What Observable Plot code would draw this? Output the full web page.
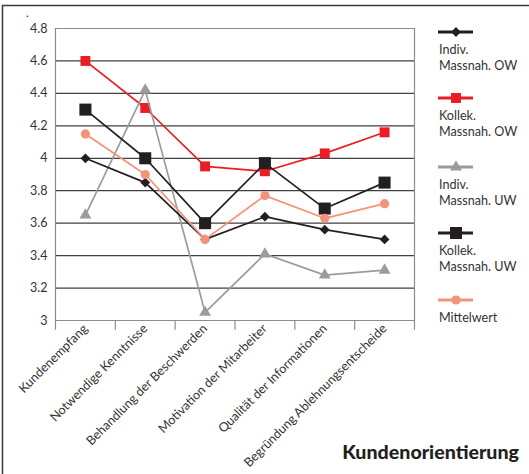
<!DOCTYPE html>
<html>
<head>
<meta charset="utf-8">
<script src="https://cdn.jsdelivr.net/npm/d3@7"></script>
<script src="https://cdn.jsdelivr.net/npm/@observablehq/plot@0.6"></script>
<style>
  html, body { margin: 0; padding: 0; background: #fff; }
  #chart svg { display: block; }
</style>
</head>
<body>
<div id="chart"></div>
<script>
// Survey items on the x axis
const categories = [
  "Kundenempfang",
  "Notwendige Kenntnisse",
  "Behandlung der Beschwerden",
  "Motivation der Mitarbeiter",
  "Qualität der Informationen",
  "Begründung Ablehnungsentscheide"
];

// Legend labels (two lines each, except the mean)
const seriesLabels = [
  ["Indiv.", "Massnah. OW"],
  ["Kollek.", "Massnah. OW"],
  ["Indiv.", "Massnah. UW"],
  ["Kollek.", "Massnah. UW"],
  ["Mittelwert"]
];

// Mean scores per item
const indivOW    = [4.00, 3.85, 3.50, 3.64, 3.56, 3.50];
const kollekOW   = [4.60, 4.31, 3.95, 3.92, 4.03, 4.16];
const indivUW    = [3.65, 4.42, 3.05, 3.41, 3.28, 3.31];
const kollekUW   = [4.30, 4.00, 3.60, 3.97, 3.69, 3.85];
const mittelwert = [4.15, 3.90, 3.50, 3.77, 3.63, 3.72];

// Y axis ticks and their printed labels
const yTicks      = [3, 3.2, 3.4, 3.6, 3.8, 4, 4.2, 4.4, 4.6, 4.8];
const yTickLabels = ["3", "3.2", "3.4", "3.6", "3.8", "4", "4.2", "4.4", "4.6", "4.8"];

const title = "Kundenorientierung";

// Series styling: colour, Plot symbol and symbol radius
const series = [
  {key: "indivOW",  label: seriesLabels[0], values: indivOW,    color: "#231f20", symbol: "diamond2", r: 4.4},
  {key: "kollekOW", label: seriesLabels[1], values: kollekOW,   color: "#ed1c24", symbol: "square",   r: 5.6},
  {key: "indivUW",  label: seriesLabels[2], values: indivUW,    color: "#9b9b9d", symbol: "triangle", r: 4.4},
  {key: "kollekUW", label: seriesLabels[3], values: kollekUW,   color: "#231f20", symbol: "square",   r: 6.8},
  {key: "mittel",   label: seriesLabels[4], values: mittelwert, color: "#f4937a", symbol: "circle",   r: 4.6}
];

const rowsOf = s => s.values.map((v, i) => ({i, value: v}));

// drawing order: red, grey, diamond, black squares, mean on top
const drawOrder = [series[1], series[2], series[0], series[3], series[4]];

const idx = d3.range(categories.length);
const innerBounds = idx.slice(0, -1).map(i => i + 0.5);

const frameGrey = "#8c8c8c";
const fontStack = "Lato, 'Open Sans', sans-serif";

const chart = Plot.plot({
  width: 529,
  height: 474,
  marginLeft: 55,
  marginRight: 115,
  marginTop: 28,
  marginBottom: 154,
  style: {fontFamily: fontStack, fontSize: "12px", color: "#333", background: "#fff"},
  x: {domain: [-0.5, categories.length - 0.5]},
  y: {domain: [3, 4.8]},
  marks: [
    Plot.ruleY(yTicks.slice(1, -1), {stroke: "#404040", strokeWidth: 1.2}),
    Plot.ruleY([3, 4.8], {stroke: frameGrey, strokeWidth: 1.2}),
    Plot.ruleX([-0.5, categories.length - 0.5], {y1: 2.94, y2: 4.8, stroke: frameGrey, strokeWidth: 1.2}),
    Plot.ruleX(innerBounds, {y1: 2.94, y2: 3, stroke: frameGrey, strokeWidth: 1.2}),
    Plot.axisY(yTicks, {
      tickSize: 0, tickPadding: 8, label: null, fontSize: 12.5,
      tickFormat: d => yTickLabels[yTicks.indexOf(d)],
      fill: "#333"
    }),
    Plot.axisX(idx, {
      tickSize: 0, tickPadding: 6, tickRotate: -45, label: null, fontSize: 12.6,
      tickFormat: i => categories[i],
      fill: "#333"
    }),
    ...drawOrder.flatMap(s => [
      Plot.line(rowsOf(s), {x: "i", y: "value", stroke: s.color, strokeWidth: 1.7}),
      Plot.dot(rowsOf(s), {x: "i", y: "value", symbol: s.symbol, r: s.r, fill: s.color, stroke: "none"})
    ])
  ]
});

document.getElementById("chart").appendChild(chart);

const svg = d3.select(chart);

// outer frame on the top and left
svg.append("path")
  .attr("d", "M2.5,480V5.5H540")
  .attr("fill", "none")
  .attr("stroke", "#3a3a3a")
  .attr("stroke-width", 1.5);

svg.append("text")
  .attr("x", 26).attr("y", 17)
  .attr("text-anchor", "start")
  .attr("font-family", fontStack)
  .attr("font-size", 12)
  .attr("fill", "#222")
  .text(".");

// legend
const legendY = [32, 98, 167, 233, 300];
const symMap = {diamond2: d3.symbolDiamond2, square: d3.symbolSquare, triangle: d3.symbolTriangle, circle: d3.symbolCircle};
const legend = svg.append("g")
  .attr("font-family", fontStack)
  .attr("font-size", 12.6)
  .attr("text-anchor", "start")
  .attr("fill", "#333");
series.forEach((s, k) => {
  const y = legendY[k];
  legend.append("line")
    .attr("x1", 438).attr("x2", 473).attr("y1", y).attr("y2", y)
    .attr("stroke", s.color).attr("stroke-width", 3);
  legend.append("path")
    .attr("transform", `translate(456,${y})`)
    .attr("d", d3.symbol(symMap[s.symbol], Math.PI * s.r * s.r)())
    .attr("fill", s.color);
  s.label.forEach((line, j) => {
    legend.append("text")
      .attr("x", 439).attr("y", y + 22 + j * 16)
      .text(line);
  });
});

// chart title
svg.append("text")
  .attr("x", 519).attr("y", 459)
  .attr("text-anchor", "end")
  .attr("font-family", fontStack)
  .attr("font-weight", 900)
  .attr("font-size", 19.6)
  .attr("fill", "#231f20")
  .text(title);
</script>
</body>
</html>
